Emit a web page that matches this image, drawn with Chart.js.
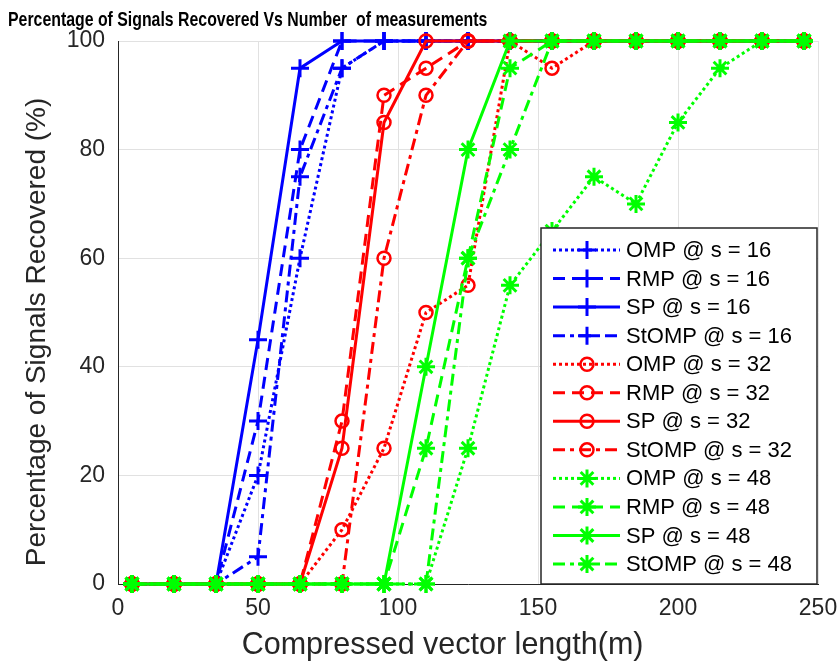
<!DOCTYPE html>
<html>
<head>
<meta charset="utf-8">
<script src="https://cdn.jsdelivr.net/npm/chart.js@4.4.1/dist/chart.umd.min.js"></script>
<style>
  html, body { margin: 0; padding: 0; background: #fff; }
  #wrap { width: 839px; height: 668px; }
</style>
</head>
<body>
<div id="wrap"><canvas id="recoveryChart" width="839" height="668"></canvas></div>
<script>
// measurement lengths (x axis)
const mLengths = [5, 20, 35, 50, 65, 80, 95, 110, 125, 140, 155, 170, 185, 200, 215, 230, 245];

// s = 16
const omp16   = [0, 0, 0, 20, 60, 95, 100, 100, 100, 100, 100, 100, 100, 100, 100, 100, 100];
const rmp16   = [0, 0, 0, 30, 80, 100, 100, 100, 100, 100, 100, 100, 100, 100, 100, 100, 100];
const sp16    = [0, 0, 0, 45, 95, 100, 100, 100, 100, 100, 100, 100, 100, 100, 100, 100, 100];
const stomp16 = [0, 0, 0, 5, 75, 95, 100, 100, 100, 100, 100, 100, 100, 100, 100, 100, 100];

// s = 32
const omp32   = [0, 0, 0, 0, 0, 10, 25, 50, 55, 100, 95, 100, 100, 100, 100, 100, 100];
const rmp32   = [0, 0, 0, 0, 0, 30, 90, 95, 100, 100, 100, 100, 100, 100, 100, 100, 100];
const sp32    = [0, 0, 0, 0, 0, 25, 85, 100, 100, 100, 100, 100, 100, 100, 100, 100, 100];
const stomp32 = [0, 0, 0, 0, 0, 0, 60, 90, 100, 100, 100, 100, 100, 100, 100, 100, 100];

// s = 48
const omp48   = [0, 0, 0, 0, 0, 0, 0, 0, 25, 55, 65, 75, 70, 85, 95, 100, 100];
const rmp48   = [0, 0, 0, 0, 0, 0, 0, 25, 60, 95, 100, 100, 100, 100, 100, 100, 100];
const sp48    = [0, 0, 0, 0, 0, 0, 0, 40, 80, 100, 100, 100, 100, 100, 100, 100, 100];
const stomp48 = [0, 0, 0, 0, 0, 0, 0, 0, 60, 80, 100, 100, 100, 100, 100, 100, 100];

const xTicks = [0, 50, 100, 150, 200, 250];
const yTicks = [0, 20, 40, 60, 80, 100];

const chartTitle = 'Percentage of Signals Recovered Vs Number  of measurements';
// the labels in the original carry trailing blanks, which shifts them off-centre
const xTitle = 'Compressed vector length(m)      ';
const yTitle = 'Percentage of Signals Recovered (%)     ';

const BLUE = '#0000ff', RED = '#ff0000', GREEN = '#00ff00';
const DOT = [3, 3], DASH = [12, 7], SOLID = [], DASHDOT = [12, 5, 4, 5];

function series(label, values, color, dash, marker) {
  const r = marker === 'circle' ? 6.5 : 9;
  return {
    label: label,
    data: mLengths.map((m, i) => ({ x: m, y: values[i] })),
    borderColor: color,
    borderWidth: 3,
    borderDash: dash,
    pointStyle: marker,
    pointRadius: r,
    pointHoverRadius: r,
    pointBorderWidth: marker === 'circle' ? 2.5 : 3,
    pointBorderColor: color,
    pointBackgroundColor: 'rgba(0,0,0,0)',
    fill: false,
    tension: 0,
    clip: false
  };
}

const datasets = [
  series('OMP @ s = 16', omp16, BLUE, DOT, 'cross'),
  series('RMP @ s = 16', rmp16, BLUE, DASH, 'cross'),
  series('SP @ s = 16', sp16, BLUE, SOLID, 'cross'),
  series('StOMP @ s = 16', stomp16, BLUE, DASHDOT, 'cross'),
  series('OMP @ s = 32', omp32, RED, DOT, 'circle'),
  series('RMP @ s = 32', rmp32, RED, DASH, 'circle'),
  series('SP @ s = 32', sp32, RED, SOLID, 'circle'),
  series('StOMP @ s = 32', stomp32, RED, DASHDOT, 'circle'),
  series('OMP @ s = 48', omp48, GREEN, DOT, 'star'),
  series('RMP @ s = 48', rmp48, GREEN, DASH, 'star'),
  series('SP @ s = 48', sp48, GREEN, SOLID, 'star'),
  series('StOMP @ s = 48', stomp48, GREEN, DASHDOT, 'star')
];
// later series on top, like matlab
datasets.forEach((d, i) => { d.order = datasets.length - i; });

// legend box inside the plot (matlab style, lower right)
const insideLegend = {
  id: 'insideLegend',
  afterDatasetsDraw(chart) {
    const ctx = chart.ctx;
    const box = { x: 541, y: 228, w: 276, h: 356 };
    ctx.save();
    ctx.fillStyle = '#fff';
    ctx.fillRect(box.x, box.y, box.w, box.h);
    ctx.strokeStyle = '#262626';
    ctx.lineWidth = 1.5;
    ctx.setLineDash([]);
    ctx.strokeRect(box.x, box.y, box.w, box.h);
    chart.data.datasets.forEach((ds, i) => {
      const y = 250 + i * 28.55;
      ctx.strokeStyle = ds.borderColor;
      ctx.lineWidth = ds.borderWidth;
      ctx.setLineDash(ds.borderDash);
      ctx.beginPath();
      ctx.moveTo(553, y);
      ctx.lineTo(620, y);
      ctx.stroke();
      ctx.setLineDash([]);
      ctx.lineWidth = ds.pointBorderWidth;
      ctx.fillStyle = ds.pointBackgroundColor;
      Chart.helpers.drawPoint(ctx, {
        pointStyle: ds.pointStyle,
        radius: ds.pointRadius,
        rotation: 0,
        borderWidth: ds.pointBorderWidth
      }, 587, y);
      ctx.fillStyle = '#000';
      ctx.font = '22px "Liberation Sans", Arial, sans-serif';
      ctx.textBaseline = 'middle';
      ctx.textAlign = 'left';
      ctx.fillText(ds.label, 626, y + 1);
    });
    ctx.restore();
  }
};

// condensed bold title, drawn by hand (no narrow font available)
const narrowTitle = {
  id: 'narrowTitle',
  afterDraw(chart) {
    const ctx = chart.ctx;
    ctx.save();
    ctx.translate(8, 26);
    ctx.scale(0.755, 1);
    ctx.fillStyle = '#000';
    ctx.font = 'bold 21px "Liberation Sans", Arial, sans-serif';
    ctx.textBaseline = 'alphabetic';
    ctx.textAlign = 'left';
    ctx.fillText(chartTitle, 0, 0);
    ctx.restore();
  }
};

const ctx = document.getElementById('recoveryChart').getContext('2d');
new Chart(ctx, {
  type: 'line',
  data: { datasets: datasets },
  plugins: [insideLegend, narrowTitle],
  options: {
    responsive: false,
    animation: false,
    events: [],
    layout: { padding: { left: 8, right: 21, top: 41, bottom: 0 } },
    plugins: {
      legend: { display: false },
      tooltip: { enabled: false },
      title: { display: false }
    },
    scales: {
      x: {
        type: 'linear',
        min: 0,
        max: 250,
        afterBuildTicks: s => { s.ticks = xTicks.map(v => ({ value: v })); },
        afterFit: s => { s.height = 84; },
        // invisible tick marks only push the labels down
        grid: { color: '#e1e1e1', lineWidth: 1, drawTicks: true, tickLength: 11, tickColor: 'rgba(0,0,0,0)' },
        border: { display: true, color: '#262626', width: 1 },
        ticks: {
          color: '#262626',
          padding: 0,
          font: { family: '"Liberation Sans", Arial, sans-serif', size: 23 }
        },
        title: {
          display: true,
          text: xTitle,
          color: '#262626',
          padding: { top: 0, bottom: 4 },
          font: { family: '"Liberation Sans", Arial, sans-serif', size: 30.5 }
        }
      },
      y: {
        type: 'linear',
        min: 0,
        max: 100,
        afterBuildTicks: s => { s.ticks = yTicks.map(v => ({ value: v })); },
        afterFit: s => { s.width = 110; },
        grid: { color: '#e1e1e1', lineWidth: 1, drawTicks: false },
        border: { display: true, color: '#262626', width: 1 },
        ticks: {
          color: '#262626',
          padding: 13,
          font: { family: '"Liberation Sans", Arial, sans-serif', size: 23 }
        },
        title: {
          display: true,
          text: yTitle,
          color: '#262626',
          padding: { top: 12, bottom: 0 },
          font: { family: '"Liberation Sans", Arial, sans-serif', size: 28 }
        }
      }
    }
  }
});
</script>
</body>
</html>
